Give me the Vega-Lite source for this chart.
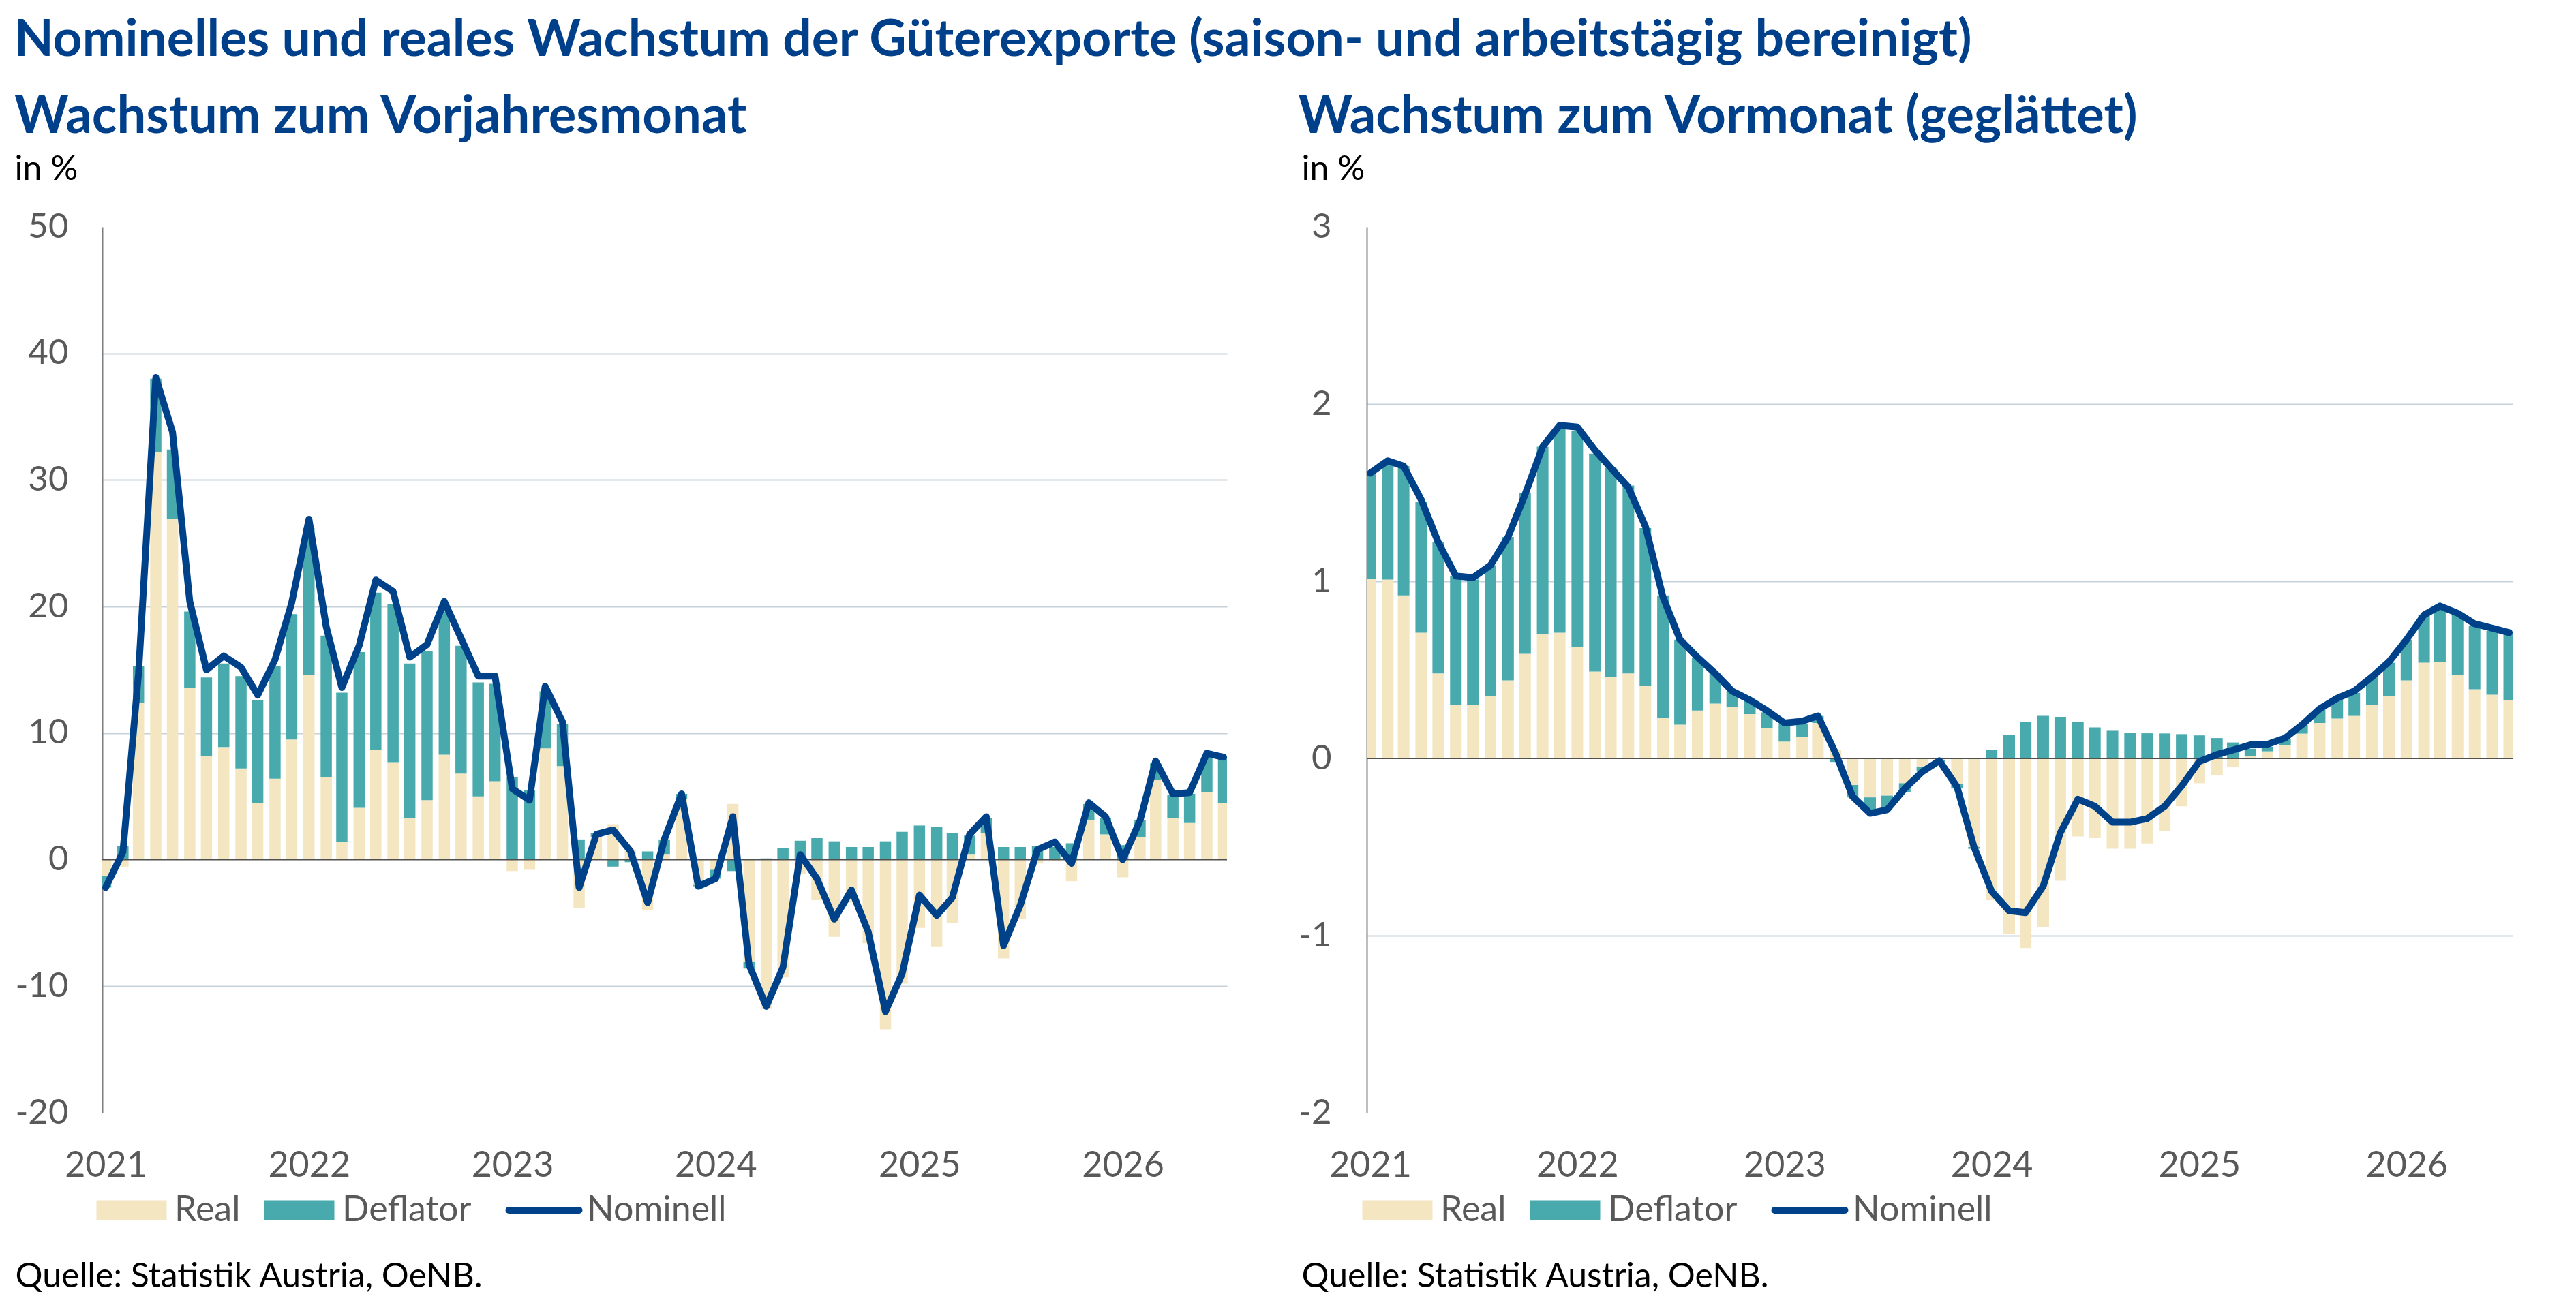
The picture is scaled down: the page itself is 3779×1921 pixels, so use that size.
{
  "$schema": "https://vega.github.io/schema/vega-lite/v6.json",
  "padding": {"left": 21, "top": 22, "right": 10, "bottom": 10},
  "title": {
    "text": "Nominelles und reales Wachstum der Güterexporte (saison- und arbeitstägig bereinigt)",
    "anchor": "start",
    "frame": "bounds",
    "font": "Lato",
    "fontSize": 75,
    "fontWeight": "bold",
    "color": "#003F8A",
    "offset": 36
  },
  "datasets": {
    "yoy": [
      {"Monat": "2021-01-01", "Real": -1.3, "Deflator": -0.9, "Nominell": -2.2},
      {"Monat": "2021-02-01", "Real": -0.55, "Deflator": 1.1, "Nominell": 0.6},
      {"Monat": "2021-03-01", "Real": 12.4, "Deflator": 2.9, "Nominell": 14.7},
      {"Monat": "2021-04-01", "Real": 32.2, "Deflator": 5.8, "Nominell": 38.1},
      {"Monat": "2021-05-01", "Real": 26.9, "Deflator": 5.5, "Nominell": 33.8},
      {"Monat": "2021-06-01", "Real": 13.6, "Deflator": 6.0, "Nominell": 20.4},
      {"Monat": "2021-07-01", "Real": 8.2, "Deflator": 6.2, "Nominell": 15.0},
      {"Monat": "2021-08-01", "Real": 8.9, "Deflator": 6.6, "Nominell": 16.1},
      {"Monat": "2021-09-01", "Real": 7.2, "Deflator": 7.3, "Nominell": 15.2},
      {"Monat": "2021-10-01", "Real": 4.5, "Deflator": 8.1, "Nominell": 13.0},
      {"Monat": "2021-11-01", "Real": 6.4, "Deflator": 8.9, "Nominell": 15.8},
      {"Monat": "2021-12-01", "Real": 9.5, "Deflator": 9.9, "Nominell": 20.3},
      {"Monat": "2022-01-01", "Real": 14.6, "Deflator": 11.6, "Nominell": 26.9},
      {"Monat": "2022-02-01", "Real": 6.5, "Deflator": 11.2, "Nominell": 18.4},
      {"Monat": "2022-03-01", "Real": 1.4, "Deflator": 11.8, "Nominell": 13.6},
      {"Monat": "2022-04-01", "Real": 4.1, "Deflator": 12.3, "Nominell": 16.9},
      {"Monat": "2022-05-01", "Real": 8.7, "Deflator": 12.4, "Nominell": 22.1},
      {"Monat": "2022-06-01", "Real": 7.7, "Deflator": 12.5, "Nominell": 21.2},
      {"Monat": "2022-07-01", "Real": 3.3, "Deflator": 12.2, "Nominell": 16.0},
      {"Monat": "2022-08-01", "Real": 4.7, "Deflator": 11.8, "Nominell": 17.0},
      {"Monat": "2022-09-01", "Real": 8.3, "Deflator": 11.3, "Nominell": 20.4},
      {"Monat": "2022-10-01", "Real": 6.8, "Deflator": 10.1, "Nominell": 17.5},
      {"Monat": "2022-11-01", "Real": 5.0, "Deflator": 9.0, "Nominell": 14.5},
      {"Monat": "2022-12-01", "Real": 6.2, "Deflator": 7.7, "Nominell": 14.5},
      {"Monat": "2023-01-01", "Real": -0.9, "Deflator": 6.5, "Nominell": 5.6},
      {"Monat": "2023-02-01", "Real": -0.8, "Deflator": 5.5, "Nominell": 4.7},
      {"Monat": "2023-03-01", "Real": 8.8, "Deflator": 4.5, "Nominell": 13.7},
      {"Monat": "2023-04-01", "Real": 7.4, "Deflator": 3.3, "Nominell": 10.9},
      {"Monat": "2023-05-01", "Real": -3.8, "Deflator": 1.6, "Nominell": -2.2},
      {"Monat": "2023-06-01", "Real": 1.8, "Deflator": 0.3, "Nominell": 2.0},
      {"Monat": "2023-07-01", "Real": 2.8, "Deflator": -0.55, "Nominell": 2.35},
      {"Monat": "2023-08-01", "Real": 0.8, "Deflator": -0.2, "Nominell": 0.7},
      {"Monat": "2023-09-01", "Real": -4.0, "Deflator": 0.65, "Nominell": -3.4},
      {"Monat": "2023-10-01", "Real": 0.4, "Deflator": 1.2, "Nominell": 1.6},
      {"Monat": "2023-11-01", "Real": 4.8, "Deflator": 0.4, "Nominell": 5.2},
      {"Monat": "2023-12-01", "Real": -2.0, "Deflator": -0.1, "Nominell": -2.1},
      {"Monat": "2024-01-01", "Real": -0.8, "Deflator": -0.7, "Nominell": -1.5},
      {"Monat": "2024-02-01", "Real": 4.4, "Deflator": -0.9, "Nominell": 3.4},
      {"Monat": "2024-03-01", "Real": -8.1, "Deflator": -0.5, "Nominell": -8.3},
      {"Monat": "2024-04-01", "Real": -11.8, "Deflator": 0.1, "Nominell": -11.6},
      {"Monat": "2024-05-01", "Real": -9.3, "Deflator": 0.9, "Nominell": -8.5},
      {"Monat": "2024-06-01", "Real": -1.1, "Deflator": 1.5, "Nominell": 0.4},
      {"Monat": "2024-07-01", "Real": -3.2, "Deflator": 1.7, "Nominell": -1.5},
      {"Monat": "2024-08-01", "Real": -6.1, "Deflator": 1.45, "Nominell": -4.7},
      {"Monat": "2024-09-01", "Real": -3.4, "Deflator": 1.0, "Nominell": -2.4},
      {"Monat": "2024-10-01", "Real": -6.6, "Deflator": 1.0, "Nominell": -5.7},
      {"Monat": "2024-11-01", "Real": -13.4, "Deflator": 1.45, "Nominell": -12.0},
      {"Monat": "2024-12-01", "Real": -9.8, "Deflator": 2.2, "Nominell": -9.0},
      {"Monat": "2025-01-01", "Real": -5.4, "Deflator": 2.7, "Nominell": -2.8},
      {"Monat": "2025-02-01", "Real": -6.9, "Deflator": 2.6, "Nominell": -4.4},
      {"Monat": "2025-03-01", "Real": -5.0, "Deflator": 2.1, "Nominell": -3.0},
      {"Monat": "2025-04-01", "Real": 0.4, "Deflator": 1.5, "Nominell": 2.0},
      {"Monat": "2025-05-01", "Real": 2.1, "Deflator": 1.2, "Nominell": 3.4},
      {"Monat": "2025-06-01", "Real": -7.8, "Deflator": 1.0, "Nominell": -6.8},
      {"Monat": "2025-07-01", "Real": -4.7, "Deflator": 1.0, "Nominell": -3.6},
      {"Monat": "2025-08-01", "Real": -0.3, "Deflator": 1.1, "Nominell": 0.8},
      {"Monat": "2025-09-01", "Real": -0.1, "Deflator": 1.0, "Nominell": 1.4},
      {"Monat": "2025-10-01", "Real": -1.7, "Deflator": 1.3, "Nominell": -0.3},
      {"Monat": "2025-11-01", "Real": 3.1, "Deflator": 1.3, "Nominell": 4.5},
      {"Monat": "2025-12-01", "Real": 2.0, "Deflator": 1.3, "Nominell": 3.4},
      {"Monat": "2026-01-01", "Real": -1.4, "Deflator": 1.15, "Nominell": 0.0},
      {"Monat": "2026-02-01", "Real": 1.8, "Deflator": 1.3, "Nominell": 3.1},
      {"Monat": "2026-03-01", "Real": 6.3, "Deflator": 1.3, "Nominell": 7.8},
      {"Monat": "2026-04-01", "Real": 3.3, "Deflator": 1.8, "Nominell": 5.2},
      {"Monat": "2026-05-01", "Real": 2.9, "Deflator": 2.3, "Nominell": 5.3},
      {"Monat": "2026-06-01", "Real": 5.35, "Deflator": 2.75, "Nominell": 8.4},
      {"Monat": "2026-07-01", "Real": 4.5, "Deflator": 3.5, "Nominell": 8.1}
    ],
    "mom": [
      {"Monat": "2021-01-01", "Real": 1.015, "Deflator": 0.6, "Nominell": 1.61},
      {"Monat": "2021-02-01", "Real": 1.01, "Deflator": 0.65, "Nominell": 1.68},
      {"Monat": "2021-03-01", "Real": 0.92, "Deflator": 0.73, "Nominell": 1.65},
      {"Monat": "2021-04-01", "Real": 0.71, "Deflator": 0.74, "Nominell": 1.46},
      {"Monat": "2021-05-01", "Real": 0.48, "Deflator": 0.74, "Nominell": 1.22},
      {"Monat": "2021-06-01", "Real": 0.3, "Deflator": 0.73, "Nominell": 1.03},
      {"Monat": "2021-07-01", "Real": 0.3, "Deflator": 0.71, "Nominell": 1.02},
      {"Monat": "2021-08-01", "Real": 0.35, "Deflator": 0.74, "Nominell": 1.09},
      {"Monat": "2021-09-01", "Real": 0.44, "Deflator": 0.81, "Nominell": 1.25},
      {"Monat": "2021-10-01", "Real": 0.59, "Deflator": 0.91, "Nominell": 1.49},
      {"Monat": "2021-11-01", "Real": 0.7, "Deflator": 1.06, "Nominell": 1.76},
      {"Monat": "2021-12-01", "Real": 0.71, "Deflator": 1.15, "Nominell": 1.88},
      {"Monat": "2022-01-01", "Real": 0.63, "Deflator": 1.22, "Nominell": 1.87},
      {"Monat": "2022-02-01", "Real": 0.49, "Deflator": 1.23, "Nominell": 1.74},
      {"Monat": "2022-03-01", "Real": 0.46, "Deflator": 1.18, "Nominell": 1.64},
      {"Monat": "2022-04-01", "Real": 0.48, "Deflator": 1.06, "Nominell": 1.53},
      {"Monat": "2022-05-01", "Real": 0.41, "Deflator": 0.89, "Nominell": 1.31},
      {"Monat": "2022-06-01", "Real": 0.23, "Deflator": 0.69, "Nominell": 0.91},
      {"Monat": "2022-07-01", "Real": 0.19, "Deflator": 0.48, "Nominell": 0.67},
      {"Monat": "2022-08-01", "Real": 0.27, "Deflator": 0.3, "Nominell": 0.57},
      {"Monat": "2022-09-01", "Real": 0.31, "Deflator": 0.17, "Nominell": 0.48},
      {"Monat": "2022-10-01", "Real": 0.29, "Deflator": 0.09, "Nominell": 0.38},
      {"Monat": "2022-11-01", "Real": 0.25, "Deflator": 0.08, "Nominell": 0.33},
      {"Monat": "2022-12-01", "Real": 0.17, "Deflator": 0.09, "Nominell": 0.27},
      {"Monat": "2023-01-01", "Real": 0.095, "Deflator": 0.1, "Nominell": 0.2},
      {"Monat": "2023-02-01", "Real": 0.12, "Deflator": 0.075, "Nominell": 0.21},
      {"Monat": "2023-03-01", "Real": 0.2, "Deflator": 0.04, "Nominell": 0.24},
      {"Monat": "2023-04-01", "Real": 0.05, "Deflator": -0.02, "Nominell": 0.03},
      {"Monat": "2023-05-01", "Real": -0.15, "Deflator": -0.07, "Nominell": -0.215},
      {"Monat": "2023-06-01", "Real": -0.22, "Deflator": -0.08, "Nominell": -0.31},
      {"Monat": "2023-07-01", "Real": -0.21, "Deflator": -0.07, "Nominell": -0.29},
      {"Monat": "2023-08-01", "Real": -0.14, "Deflator": -0.05, "Nominell": -0.17},
      {"Monat": "2023-09-01", "Real": -0.05, "Deflator": -0.025, "Nominell": -0.075},
      {"Monat": "2023-10-01", "Real": -0.01, "Deflator": -0.01, "Nominell": -0.013},
      {"Monat": "2023-11-01", "Real": -0.145, "Deflator": -0.025, "Nominell": -0.16},
      {"Monat": "2023-12-01", "Real": -0.5, "Deflator": -0.01, "Nominell": -0.5},
      {"Monat": "2024-01-01", "Real": -0.8, "Deflator": 0.05, "Nominell": -0.75},
      {"Monat": "2024-02-01", "Real": -0.99, "Deflator": 0.133, "Nominell": -0.86},
      {"Monat": "2024-03-01", "Real": -1.07, "Deflator": 0.205, "Nominell": -0.87},
      {"Monat": "2024-04-01", "Real": -0.95, "Deflator": 0.24, "Nominell": -0.72},
      {"Monat": "2024-05-01", "Real": -0.69, "Deflator": 0.235, "Nominell": -0.42},
      {"Monat": "2024-06-01", "Real": -0.44, "Deflator": 0.205, "Nominell": -0.23},
      {"Monat": "2024-07-01", "Real": -0.45, "Deflator": 0.175, "Nominell": -0.27},
      {"Monat": "2024-08-01", "Real": -0.51, "Deflator": 0.156, "Nominell": -0.36},
      {"Monat": "2024-09-01", "Real": -0.51, "Deflator": 0.145, "Nominell": -0.36},
      {"Monat": "2024-10-01", "Real": -0.48, "Deflator": 0.142, "Nominell": -0.34},
      {"Monat": "2024-11-01", "Real": -0.41, "Deflator": 0.141, "Nominell": -0.27},
      {"Monat": "2024-12-01", "Real": -0.27, "Deflator": 0.137, "Nominell": -0.155},
      {"Monat": "2025-01-01", "Real": -0.14, "Deflator": 0.13, "Nominell": -0.017},
      {"Monat": "2025-02-01", "Real": -0.093, "Deflator": 0.115, "Nominell": 0.022},
      {"Monat": "2025-03-01", "Real": -0.048, "Deflator": 0.09, "Nominell": 0.047},
      {"Monat": "2025-04-01", "Real": 0.015, "Deflator": 0.04, "Nominell": 0.077},
      {"Monat": "2025-05-01", "Real": 0.04, "Deflator": 0.026, "Nominell": 0.08},
      {"Monat": "2025-06-01", "Real": 0.075, "Deflator": 0.036, "Nominell": 0.115},
      {"Monat": "2025-07-01", "Real": 0.14, "Deflator": 0.05, "Nominell": 0.19},
      {"Monat": "2025-08-01", "Real": 0.2, "Deflator": 0.08, "Nominell": 0.28},
      {"Monat": "2025-09-01", "Real": 0.225, "Deflator": 0.105, "Nominell": 0.34},
      {"Monat": "2025-10-01", "Real": 0.24, "Deflator": 0.13, "Nominell": 0.38},
      {"Monat": "2025-11-01", "Real": 0.3, "Deflator": 0.16, "Nominell": 0.46},
      {"Monat": "2025-12-01", "Real": 0.35, "Deflator": 0.19, "Nominell": 0.545},
      {"Monat": "2026-01-01", "Real": 0.44, "Deflator": 0.23, "Nominell": 0.67},
      {"Monat": "2026-02-01", "Real": 0.54, "Deflator": 0.27, "Nominell": 0.81},
      {"Monat": "2026-03-01", "Real": 0.545, "Deflator": 0.3, "Nominell": 0.86},
      {"Monat": "2026-04-01", "Real": 0.47, "Deflator": 0.34, "Nominell": 0.82},
      {"Monat": "2026-05-01", "Real": 0.39, "Deflator": 0.36, "Nominell": 0.76},
      {"Monat": "2026-06-01", "Real": 0.36, "Deflator": 0.36, "Nominell": 0.735},
      {"Monat": "2026-07-01", "Real": 0.33, "Deflator": 0.37, "Nominell": 0.71}
    ]
  },
  "hconcat": [
    {
      "width": 1650,
      "height": 1300,
      "data": {"name": "yoy"},
      "title": {
        "text": "Wachstum zum Vorjahresmonat",
        "anchor": "start",
        "frame": "bounds",
        "font": "Lato",
        "fontSize": 76,
        "fontWeight": "bold",
        "color": "#003F8A",
        "offset": 12
      },
      "layer": [
        {
          "transform": [{"fold": ["Real", "Deflator"], "as": ["Reihe", "Wert"]}],
          "mark": {"type": "bar", "width": 16.5, "clip": true},
          "encoding": {
            "x": {
              "field": "Monat",
              "type": "temporal",
              "scale": {
                "type": "utc",
                "domain": [
                  {"year": 2021, "month": 1, "date": 1, "utc": true},
                  {"year": 2026, "month": 7, "date": 1, "utc": true}
                ]
              },
              "axis": {
                "title": "Quelle: Statistik Austria, OeNB.",
                "format": "%Y",
                "tickCount": {"interval": "year", "step": 1},
                "domain": false,
                "ticks": false,
                "grid": false,
                "labelFlush": false,
                "labelFont": "Lato",
                "labelFontSize": 52,
                "labelColor": "#595959",
                "labelPadding": 52,
                "titleX": -128,
                "titleY": 255,
                "titleAlign": "left",
                "titleAnchor": "start",
                "titleBaseline": "alphabetic",
                "titleFont": "Lato",
                "titleFontSize": 50,
                "titleFontWeight": "normal",
                "titleColor": "#000000"
              }
            },
            "y": {
              "field": "Wert",
              "type": "quantitative",
              "stack": "zero",
              "scale": {"domain": [-20, 50], "nice": false, "zero": false},
              "axis": {
                "title": "in %",
                "titleAngle": 0,
                "titleAlign": "left",
                "titleBaseline": "alphabetic",
                "titleX": -129,
                "titleY": -70,
                "titleFont": "Lato",
                "titleFontSize": 50,
                "titleFontWeight": "normal",
                "titleColor": "#000000",
                "values": [-20, -10, 0, 10, 20, 30, 40, 50],
                "labelExpr": "datum.value < 0 ? '-' + abs(datum.value) : '' + datum.value",
                "ticks": false,
                "labelFont": "Lato",
                "labelFontSize": 51,
                "labelColor": "#595959",
                "labelPadding": 50,
                "domainColor": "#7F7F7F",
                "domainWidth": 2,
                "gridColor": "#C7D1D9",
                "gridWidth": 2,
                "gridOpacity": {
                  "condition": {"test": "datum.value === 50 || datum.value === -20 || datum.value === 0", "value": 0},
                  "value": 1
                }
              }
            },
            "color": {
              "field": "Reihe",
              "type": "nominal",
              "scale": {
                "domain": ["Real", "Deflator", "Nominell"],
                "range": ["#F3E6C1", "#48AAAD", "#00428A"]
              },
              "legend": {
                "orient": "none",
                "legendX": -7,
                "legendY": 1417,
                "direction": "horizontal",
                "title": null,
                "labelFont": "Lato",
                "labelFontSize": 52,
                "labelColor": "#595959",
                "labelOffset": 37,
                "labelLimit": 0,
                "columnPadding": 34,
                "symbolOffset": 24,
                "symbolSize": 10609,
                "symbolType": "M-1,-0.28H1V0.28H-1Z",
                "symbolStrokeWidth": 0,
                "encode": {
                  "symbols": {
                    "update": {
                      "shape": {"signal": "datum.label === 'Nominell' ? 'M-1,0H1' : 'M-1,-0.28H1V0.28H-1Z'"},
                      "size": {"value": 10609},
                      "fill": {"signal": "datum.label === 'Real' ? '#F3E6C1' : datum.label === 'Deflator' ? '#48AAAD' : 'transparent'"},
                      "stroke": {"signal": "datum.label === 'Nominell' ? '#00428A' : 'transparent'"},
                      "strokeWidth": {"signal": "datum.label === 'Nominell' ? 10 : 0"},
                      "strokeCap": {"value": "round"},
                      "opacity": {"value": 1}
                    }
                  }
                }
              }
            },
            "order": {"field": "Reihe", "sort": "descending"}
          }
        },
        {
          "data": {"values": [{"Null": 0}]},
          "mark": {"type": "rule", "color": "#505050", "strokeWidth": 2},
          "encoding": {"y": {"field": "Null", "type": "quantitative"}}
        },
        {
          "mark": {"type": "line", "strokeWidth": 10, "strokeJoin": "round", "strokeCap": "round"},
          "encoding": {
            "x": {"field": "Monat", "type": "temporal"},
            "y": {"field": "Nominell", "type": "quantitative"},
            "color": {"datum": "Nominell"}
          }
        }
      ]
    },
    {
      "width": 1681,
      "height": 1300,
      "data": {"name": "mom"},
      "title": {
        "text": "Wachstum zum Vormonat (geglättet)",
        "anchor": "start",
        "frame": "bounds",
        "font": "Lato",
        "fontSize": 76,
        "fontWeight": "bold",
        "color": "#003F8A",
        "offset": 12
      },
      "layer": [
        {
          "transform": [{"fold": ["Real", "Deflator"], "as": ["Reihe", "Wert"]}],
          "mark": {"type": "bar", "width": 17, "clip": true},
          "encoding": {
            "x": {
              "field": "Monat",
              "type": "temporal",
              "scale": {
                "type": "utc",
                "domain": [
                  {"year": 2021, "month": 1, "date": 1, "utc": true},
                  {"year": 2026, "month": 7, "date": 1, "utc": true}
                ]
              },
              "axis": {
                "title": "Quelle: Statistik Austria, OeNB.",
                "format": "%Y",
                "tickCount": {"interval": "year", "step": 1},
                "domain": false,
                "ticks": false,
                "grid": false,
                "labelFlush": false,
                "labelFont": "Lato",
                "labelFontSize": 52,
                "labelColor": "#595959",
                "labelPadding": 52,
                "titleX": -96,
                "titleY": 255,
                "titleAlign": "left",
                "titleAnchor": "start",
                "titleBaseline": "alphabetic",
                "titleFont": "Lato",
                "titleFontSize": 50,
                "titleFontWeight": "normal",
                "titleColor": "#000000"
              }
            },
            "y": {
              "field": "Wert",
              "type": "quantitative",
              "stack": "zero",
              "scale": {"domain": [-2, 3], "nice": false, "zero": false},
              "axis": {
                "title": "in %",
                "titleAngle": 0,
                "titleAlign": "left",
                "titleBaseline": "alphabetic",
                "titleX": -96,
                "titleY": -70,
                "titleFont": "Lato",
                "titleFontSize": 50,
                "titleFontWeight": "normal",
                "titleColor": "#000000",
                "values": [-2, -1, 0, 1, 2, 3],
                "labelExpr": "datum.value < 0 ? '-' + abs(datum.value) : '' + datum.value",
                "ticks": false,
                "labelFont": "Lato",
                "labelFontSize": 51,
                "labelColor": "#595959",
                "labelPadding": 52,
                "domainColor": "#7F7F7F",
                "domainWidth": 2,
                "gridColor": "#C7D1D9",
                "gridWidth": 2,
                "gridOpacity": {
                  "condition": {"test": "datum.value === 3 || datum.value === -2 || datum.value === 0", "value": 0},
                  "value": 1
                }
              }
            },
            "color": {
              "field": "Reihe",
              "type": "nominal",
              "scale": {
                "domain": ["Real", "Deflator", "Nominell"],
                "range": ["#F3E6C1", "#48AAAD", "#00428A"]
              },
              "legend": {
                "orient": "none",
                "legendX": -5,
                "legendY": 1417,
                "direction": "horizontal",
                "title": null,
                "labelFont": "Lato",
                "labelFontSize": 52,
                "labelColor": "#595959",
                "labelOffset": 37,
                "labelLimit": 0,
                "columnPadding": 34,
                "symbolOffset": 24,
                "symbolSize": 10609,
                "symbolType": "M-1,-0.28H1V0.28H-1Z",
                "symbolStrokeWidth": 0,
                "encode": {
                  "symbols": {
                    "update": {
                      "shape": {"signal": "datum.label === 'Nominell' ? 'M-1,0H1' : 'M-1,-0.28H1V0.28H-1Z'"},
                      "size": {"value": 10609},
                      "fill": {"signal": "datum.label === 'Real' ? '#F3E6C1' : datum.label === 'Deflator' ? '#48AAAD' : 'transparent'"},
                      "stroke": {"signal": "datum.label === 'Nominell' ? '#00428A' : 'transparent'"},
                      "strokeWidth": {"signal": "datum.label === 'Nominell' ? 10 : 0"},
                      "strokeCap": {"value": "round"},
                      "opacity": {"value": 1}
                    }
                  }
                }
              }
            },
            "order": {"field": "Reihe", "sort": "descending"}
          }
        },
        {
          "data": {"values": [{"Null": 0}]},
          "mark": {"type": "rule", "color": "#505050", "strokeWidth": 2},
          "encoding": {"y": {"field": "Null", "type": "quantitative"}}
        },
        {
          "mark": {"type": "line", "strokeWidth": 10, "strokeJoin": "round", "strokeCap": "round"},
          "encoding": {
            "x": {"field": "Monat", "type": "temporal"},
            "y": {"field": "Nominell", "type": "quantitative"},
            "color": {"datum": "Nominell"}
          }
        }
      ]
    }
  ],
  "spacing": 103,
  "resolve": {"scale": {"color": "independent"}, "legend": {"color": "independent"}},
  "config": {
    "view": {"stroke": null},
    "font": "Lato"
  }
}
